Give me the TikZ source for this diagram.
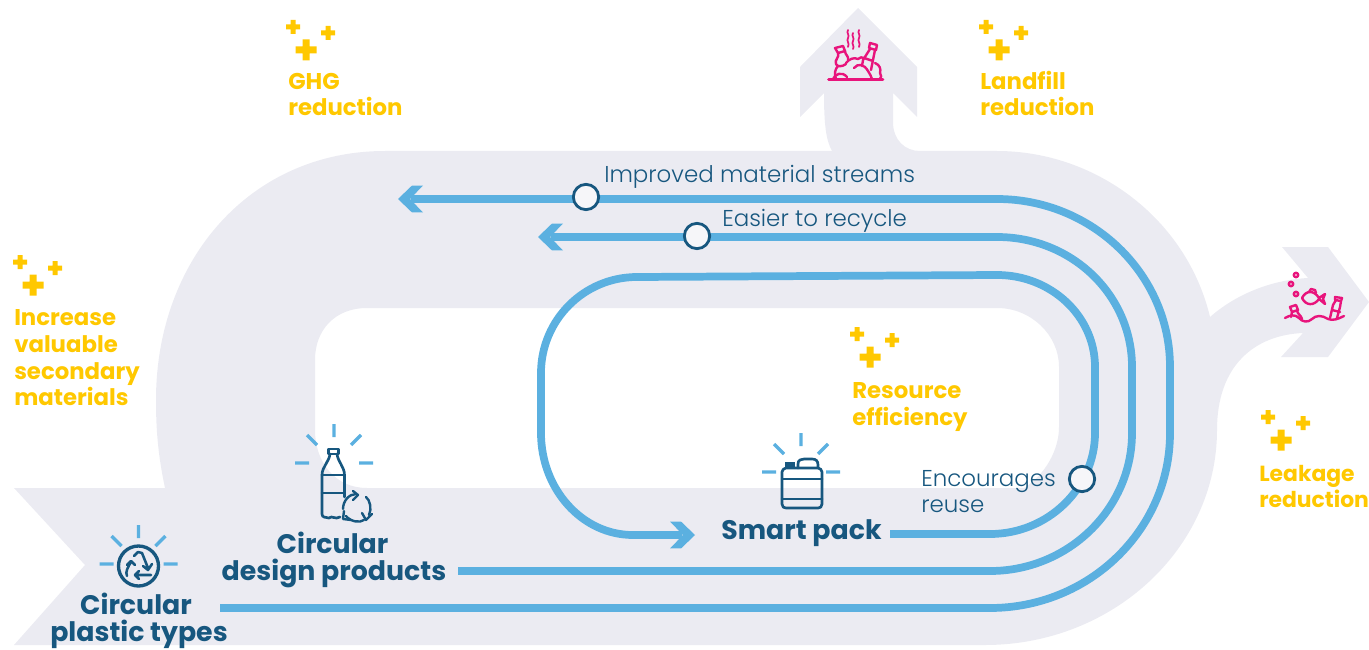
\documentclass[tikz,border=0pt]{standalone}
\usepackage{fontspec}
\setmainfont{Poppins}[UprightFont=* Light,BoldFont=* Bold]
\usetikzlibrary{arrows.meta}
\definecolor{band}{HTML}{EBEBF2}
\definecolor{sky}{HTML}{5BB0E0}
\definecolor{navy}{HTML}{17577F}
\definecolor{gold}{HTML}{FFC800}
\definecolor{pinkish}{HTML}{E8147C}
\pgfdeclarearrow{
  name=Chev,
  setup code={
    \pgfarrowssettipend{0pt}
    \pgfarrowssetlineend{-9.5pt}
    \pgfarrowssetvisualbackend{-9.5pt}
    \pgfarrowssetbackend{-18.75pt}
    \pgfarrowshullpoint{0pt}{0pt}
    \pgfarrowshullpoint{-18.75pt}{10.1pt}
    \pgfarrowshullpoint{-18.75pt}{-10.1pt}
  },
  drawing code={
    \pgfsetfillcolor{sky}
    \pgfpathmoveto{\pgfpoint{0pt}{0pt}}
    \pgfpathlineto{\pgfpoint{-10.5pt}{10.1pt}}
    \pgfpathlineto{\pgfpoint{-18.75pt}{10.1pt}}
    \pgfpathlineto{\pgfpoint{-9pt}{0pt}}
    \pgfpathlineto{\pgfpoint{-18.75pt}{-10.1pt}}
    \pgfpathlineto{\pgfpoint{-10.5pt}{-10.1pt}}
    \pgfpathclose
    \pgfusepathqfill
  }
}
\tikzset{
  flow/.style={draw=sky,line width=5.8pt},
  tipped/.style={flow,-{Chev}},
  ray/.style={draw=sky,line width=2.6pt},
  ico/.style={draw=navy,line width=2pt,line join=round,line cap=round},
  pk/.style={draw=pinkish,line width=1.8pt,line join=round,line cap=round},
  gain/.style={anchor=base west,text=gold,font=\bfseries\fontsize{17.1}{20}\selectfont,align=left,inner sep=0pt},
  stage/.style={anchor=base,text=navy,font=\bfseries\fontsize{20.1}{22}\selectfont,align=center,inner sep=0pt},
  note/.style={anchor=base west,text=navy,font=\fontsize{17.2}{20}\selectfont,align=left,inner sep=0pt},
  dot/.style={circle,draw=navy,fill=band!45!white,line width=2.1pt,minimum size=19pt,inner sep=0pt},
  plusses/.pic={
    \fill[gold] (-7,-2.5) rectangle (7,2.5) (-2.5,-7) rectangle (2.5,7);
    \fill[gold] (28,3.5) rectangle (42,8.5) (32.5,-1) rectangle (37.5,13);
    \fill[gold] (2.5,19.5) rectangle (23.5,26.5) (9.5,12.5) rectangle (16.5,33.5);
  },
  rays/.pic={
    \draw[ray] (0,-39) -- (0,-26) (-27,-28) -- (-17,-18) (27,-28) -- (17,-18)
      (-39,0) -- (-25,0) (25,0) -- (39,0);
  }
}
\begin{document}
\begin{tikzpicture}[x=0.75pt,y=-0.75pt]
\useasboundingbox (0,0) rectangle (1369,649);
% grey band
\fill[band,even odd rule]
  (14,488) -- (165,488) .. controls (158,455) and (156,430) .. (156,400)
  .. controls (156,260) and (250,151) .. (385,151) -- (832,151)
  .. controls (826,140) and (824,125) .. (824,93) -- (800,117) -- (800,67) -- (858,8)
  -- (917,67) -- (917,117) -- (893,93) -- (893,122)
  .. controls (893,140) and (905,151) .. (920,151) -- (997,151)
  .. controls (1097,151) and (1187,220) .. (1210,317)
  .. controls (1235,295) and (1270,280) .. (1308,278) -- (1282,247) -- (1328,247)
  -- (1369,302) -- (1328,357) -- (1281,357) -- (1303,333)
  .. controls (1255,335) and (1217,365) .. (1217,430)
  .. controls (1217,548) and (1113,645) .. (985,645) -- (14,645) -- (85,565) -- cycle
  (367,308) .. controls (335,308) and (315,330) .. (315,360) -- (315,430)
  .. controls (315,462) and (335,488) .. (367,488) -- (1024,488)
  .. controls (1045,475) and (1059,450) .. (1059,427) -- (1059,367)
  .. controls (1059,335) and (1031,308) .. (997,308) -- cycle;
% connectors
\coordinate (s1) at (220,608); \coordinate (e1) at (398,199);
\coordinate (s2) at (458,571); \coordinate (e2) at (538,237);
\coordinate (s3) at (890,534); \coordinate (e3) at (695,535);
\draw[tipped] (s1) -- (990,608) .. controls (1089,608) and (1170,530) .. (1170,433) -- (1170,367)
  .. controls (1170,274) and (1092,199) .. (997,199) -- (e1);
\draw[tipped] (s2) -- (990,571) .. controls (1068,571) and (1132,509) .. (1132,433) -- (1132,367)
  .. controls (1132,295) and (1072,237) .. (997,237) -- (e2);
\draw[tipped] (s3) -- (990,534) .. controls (1048,534) and (1095,488) .. (1095,433) -- (1095,367)
  .. controls (1095,316) and (1051,275) .. (997,275) -- (637,277)
  .. controls (584,277) and (541,320) .. (541,373) -- (541,433)
  .. controls (541,489) and (582,535) .. (633,535) -- (e3);
\node[dot] (c1) at (586,197) {};
\node[dot] (c2) at (697,236) {};
\node[dot] (c3) at (1082,479) {};
% notes
\node[note] (n1) at (604,182) {Improved material streams};
\node[note] (n2) at (722,226) {Easier to recycle};
\node[note] (n3) at (921,486) {Encourages};
\node[note] (n4) at (921,512) {reuse};
% gains
\pic at (293,27) {plusses};
\pic at (986,27) {plusses};
\pic at (20,262) {plusses};
\pic at (857,334) {plusses};
\pic at (1268,417) {plusses};
\node[gain] (g1a) at (288,90) {GHG};
\node[gain] (g1b) at (288,116) {reduction};
\node[gain] (g2a) at (980,90) {Landfill};
\node[gain] (g2b) at (980,116) {reduction};
\node[gain] (g3a) at (14,325) {Increase};
\node[gain] (g3b) at (14,352) {valuable};
\node[gain] (g3c) at (14,379) {secondary};
\node[gain] (g3d) at (14,405) {materials};
\node[gain] (g4a) at (852,398) {Resource};
\node[gain] (g4b) at (852,425) {efficiency};
\node[gain,font=\bfseries\fontsize{16.4}{20}\selectfont] (g5a) at (1259,481) {Leakage};
\node[gain,font=\bfseries\fontsize{16.4}{20}\selectfont] (g5b) at (1259,507) {reduction};
% stages
\node[stage] (p1a) at (136,614) {Circular};
\node[stage] (p1b) at (139,641) {plastic types};
\node[stage] (p2a) at (332.5,553) {Circular};
\node[stage] (p2b) at (334,580) {design products};
\node[stage] (p3) at (801.5,539) {Smart pack};
% icon: recycling
\pic at (138.5,564) {rays};
\draw[ico,line width=2.5pt] (138.5,566) circle (20);
\begin{scope}[ico,line width=1.9pt]
  \draw (127,576) .. controls (125,572) and (128,567) .. (131,562) (127,565) -- (131,561) -- (135,565);
  \draw (134,556) -- (138,552) -- (142,553) -- (148,568) (143,566) -- (148,570) -- (152,564);
  \draw (151,575) -- (135,575) (139,571) -- (135,575) -- (139,579);
\end{scope}
% icon: bottle
\pic at (334,463) {rays};
\draw[ico] (328.5,449) rectangle (338.5,454);
\draw[ico] (344.5,497) -- (344.5,475) .. controls (344.5,467) and (338,462) .. (337,454)
  (330,454) .. controls (329,462) and (322,467) .. (322,475) -- (322,514)
  .. controls (322,518) and (326,517) .. (329,518) .. controls (332,515) and (335,520) .. (340,517);
\draw[ico] (322,475) -- (344.5,475) (322,493) -- (344.5,493);
\draw[ico,line width=1.8pt] (343,509) .. controls (343,501) and (349,494) .. (356,494)
  (366,497) .. controls (370,500) and (372,509) .. (369,515)
  (364,520) .. controls (360,523) and (351,522) .. (346,516);
\draw[ico,line width=1.8pt] (353,491) -- (358,495) -- (353,500)
  (362,513) -- (366,520) -- (372,514)
  (344,511) -- (343,519) -- (351,520);
% icon: canister
\pic at (801,472) {rays};
\fill[navy] (785,462) rectangle (794.5,469);
\draw[ico] (786,468) -- (818,468) .. controls (820,468) and (822,470) .. (822,472) -- (822,504)
  .. controls (822,507) and (820,508) .. (818,508) -- (786,508)
  .. controls (784,508) and (782,507) .. (782,504) -- (782,472)
  .. controls (782,470) and (784,468) .. (786,468);
\draw[ico] (782,479) -- (822,479) (782,499) -- (822,499);
\draw[ico] (798,468) -- (798,464) .. controls (798,460) and (801,459) .. (804,459) -- (812,459)
  .. controls (816,459) and (818,461) .. (818,465) -- (818,468);
% icon: landfill
\begin{scope}[pk]
  \draw[line width=2.1pt] (828.5,79.5) -- (883,79.5);
  % cap and neck of the left bottle
  \draw (835,48) -- (843,46) -- (845,51) -- (838,53) -- cycle;
  \draw (838,53) .. controls (840,57) and (834,60) .. (836,64) .. controls (837,67) and (842,67) .. (846,64)
     (845,51) .. controls (845,55) and (849,56) .. (848,60);
  % mounds
  \draw (836,79) .. controls (834,74) and (835,69) .. (838,66);
  \draw (846,63) .. controls (849,59) and (854,57) .. (858,59) .. controls (860,57) and (862,57) .. (864,58);
  \draw (833,79) .. controls (835,74) and (842,71) .. (847,77);
  \draw (854,68) .. controls (858,63) and (864,64) .. (868,71) (868,71) .. controls (870,74) and (871,76) .. (872,79);
  \draw (875,63) .. controls (880,65) and (881,69) .. (880,73) .. controls (882,75) and (881,78) .. (880,79);
  % right bottle
  \draw (870,43) -- (877,45) -- (876,50) -- (869,48) -- cycle;
  \draw (870,49) -- (863,60) -- (862,66) (875,50) -- (873,60) -- (871,70) (864,58) -- (873,61);
  % steam
  \draw[line width=1.3pt] (848,30) .. controls (846,33) and (850,35) .. (848,38) .. controls (846,41) and (850,43) .. (848,47)
    (853,33) .. controls (851,36) and (855,38) .. (853,41) .. controls (851,44) and (855,46) .. (853,49)
    (859,30) .. controls (857,33) and (861,35) .. (859,38) .. controls (857,41) and (861,43) .. (859,47);
\end{scope}
% icon: sea litter
\begin{scope}[pk]
  \draw (1285,318) .. controls (1290,315) and (1295,314) .. (1299,318) .. controls (1302,322) and (1308,323) .. (1312,319)
    .. controls (1316,315) and (1322,315) .. (1328,319) .. controls (1333,321) and (1338,319) .. (1344,316);
  \draw (1290,307) -- (1296,305) -- (1298,310) -- (1292,312) -- cycle;
  \draw (1292,312) -- (1291,317) (1297,310) .. controls (1297,314) and (1301,315) .. (1302,319);
  \draw (1330,318) -- (1333,305) -- (1336,300) (1341,301) -- (1340,307) -- (1337,318)
    (1335,297) -- (1342,298) -- (1341,301) -- (1335,300) -- cycle
    (1332,310) -- (1340,312);
  \draw (1302,298) .. controls (1306,290) and (1314,290) .. (1319,298) -- (1325,294) -- (1323,299) -- (1325,304) -- (1319,299)
    .. controls (1314,306) and (1306,306) .. (1302,298);
  \draw (1309,292) -- (1311,289) -- (1315,290) -- (1316,293);
  \draw (1296,275) circle (2.2) (1291,284) circle (2.2) (1296,294) circle (2.2);
\end{scope}
\end{tikzpicture}
\end{document}
